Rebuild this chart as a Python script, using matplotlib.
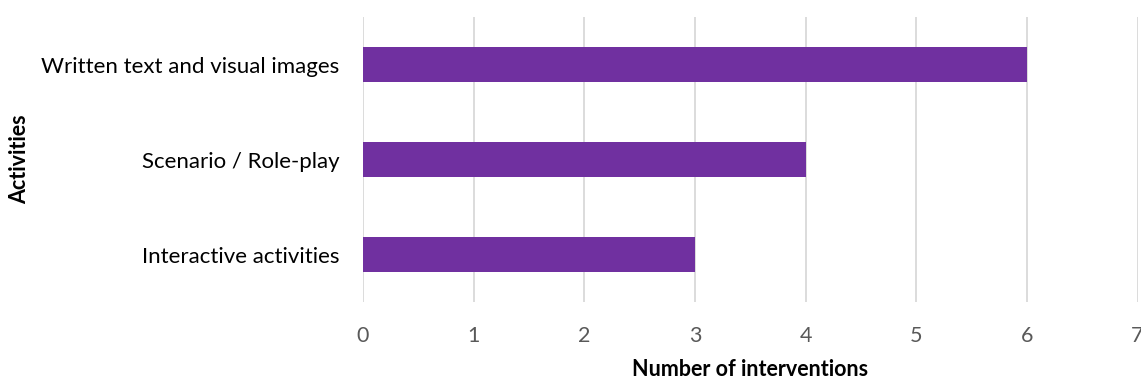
import matplotlib
matplotlib.use("Agg")
import matplotlib.pyplot as plt

# activities and how many interventions used each one
activities = ["Interactive activities", "Scenario / Role-play", "Written text and visual images"]
interventions = [3, 4, 6]
x_ticks = [0, 1, 2, 3, 4, 5, 6, 7]

plt.rcParams["font.family"] = ["Lato", "DejaVu Sans"]

fig = plt.figure(figsize=(11.41, 3.81), dpi=100)
ax = fig.add_axes([0.318, 0.207, 0.679, 0.748])

ax.barh(activities, interventions, height=0.37, color="#7030A0", zorder=3)

ax.set_xlim(0, 7)
ax.set_ylim(-0.5, 2.5)
ax.set_xticks(x_ticks)
ax.grid(axis="x", color="#D9D9D9", linewidth=1.3, zorder=0)
ax.grid(axis="y", visible=False)
for side in ["top", "right", "bottom", "left"]:
    ax.spines[side].set_visible(False)

ax.tick_params(axis="x", length=0, pad=17, labelsize=15.5, labelcolor="#595959")
ax.tick_params(axis="y", length=0, pad=17, labelsize=16, labelcolor="#000000")

ax.set_xlabel("Number of interventions", fontsize=15.5, fontweight="bold")
ax.xaxis.set_label_coords(0.5, -0.237)
ax.xaxis.label.set_verticalalignment("center")
ax.set_ylabel("Activities", fontsize=15.5, fontweight="bold")
ax.yaxis.set_label_coords(-0.443, 0.5)
ax.yaxis.label.set_verticalalignment("center")

fig.savefig("out.png", dpi=100)
